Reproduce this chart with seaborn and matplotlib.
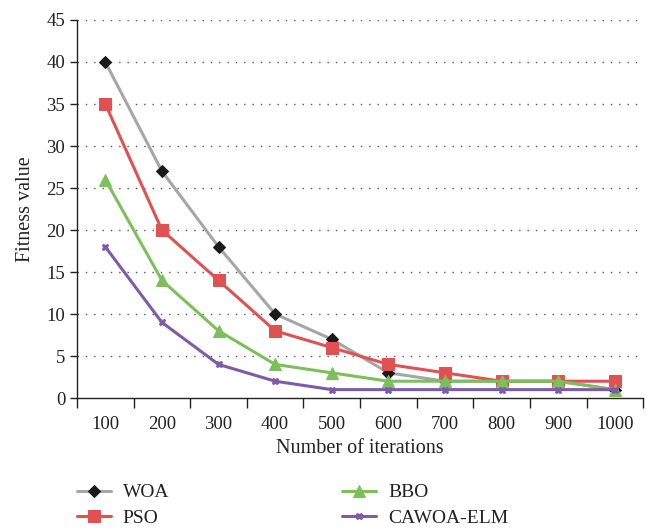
import matplotlib
matplotlib.use("Agg")
import matplotlib.pyplot as plt
import seaborn as sns
import pandas as pd

iterations = ["100", "200", "300", "400", "500", "600", "700", "800", "900", "1000"]
woa = [40, 27, 18, 10, 7, 3, 2, 2, 2, 1]
pso = [35, 20, 14, 8, 6, 4, 3, 2, 2, 2]
bbo = [26, 14, 8, 4, 3, 2, 2, 2, 2, 1]
cawoa = [18, 9, 4, 2, 1, 1, 1, 1, 1, 1]
series_names = ["WOA", "PSO", "BBO", "CAWOA-ELM"]
y_ticks = [0, 5, 10, 15, 20, 25, 30, 35, 40, 45]

sns.set_theme(style="white")
plt.rcParams["font.family"] = ["Liberation Serif", "DejaVu Serif"]

fig = plt.figure(figsize=(6.47, 5.29), dpi=100)
ax = fig.add_axes([0.119, 0.2476, 0.875, 0.7146])

styles = {
    "WOA": dict(color="#A6A6A6", marker="D", markersize=6.5, markerfacecolor="#1a1a1a", markeredgecolor="#1a1a1a"),
    "PSO": dict(color="#E05252", marker="s", markersize=8, markerfacecolor="#E05252", markeredgecolor="#E05252"),
    "BBO": dict(color="#7DC05B", marker="^", markersize=8, markerfacecolor="#7DC05B", markeredgecolor="#7DC05B"),
    "CAWOA-ELM": dict(color="#7E5BA8", marker="X", markersize=5, markerfacecolor="#7E5BA8", markeredgecolor="#7E5BA8"),
}
values = {"WOA": woa, "PSO": pso, "BBO": bbo, "CAWOA-ELM": cawoa}

for name in series_names:
    df = pd.DataFrame({"x": iterations, "y": values[name]})
    st = styles[name]
    sns.lineplot(data=df, x="x", y="y", ax=ax, label=name, linewidth=2.2, **st)

ax.set_xlim(-0.5, len(iterations) - 0.5)
ax.set_ylim(0, 45)
ax.set_yticks(y_ticks)
ax.set_yticklabels([str(v) for v in y_ticks])
ax.set_xticks(range(len(iterations)))
ax.set_xticklabels(iterations)
ax.set_xticks([i - 0.5 for i in range(len(iterations) + 1)], minor=True)
ax.tick_params(axis="x", which="major", length=0, labelsize=13.5, pad=13, colors="#222222")
ax.tick_params(axis="x", which="minor", length=7, width=1, direction="out", color="#222222", bottom=True)
ax.tick_params(axis="y", length=5, width=1, direction="out", labelsize=13.5, colors="#222222", left=True)

for y in y_ticks[1:]:
    ax.axhline(y, color="#555555", linestyle=(0, (1, 5)), linewidth=1, zorder=0)

for s in ["top", "right"]:
    ax.spines[s].set_visible(False)
for s in ["left", "bottom"]:
    ax.spines[s].set_color("#222222")
    ax.spines[s].set_linewidth(1)

ax.set_xlabel("Number of iterations", fontsize=14.5, color="#222222", labelpad=4)
ax.set_ylabel("Fitness value", fontsize=14.5, color="#222222", labelpad=8)

handles, labels = ax.get_legend_handles_labels()
ax.get_legend().remove()
fig.legend(handles, labels, loc="upper left", bbox_to_anchor=(0.119, 0.0855), ncol=2,
           frameon=False, fontsize=14, columnspacing=8.9, handlelength=1.75,
           labelspacing=0.4, handletextpad=0.6, borderpad=0, borderaxespad=0,
           labelcolor="#222222")

fig.savefig("out.png", dpi=100)
